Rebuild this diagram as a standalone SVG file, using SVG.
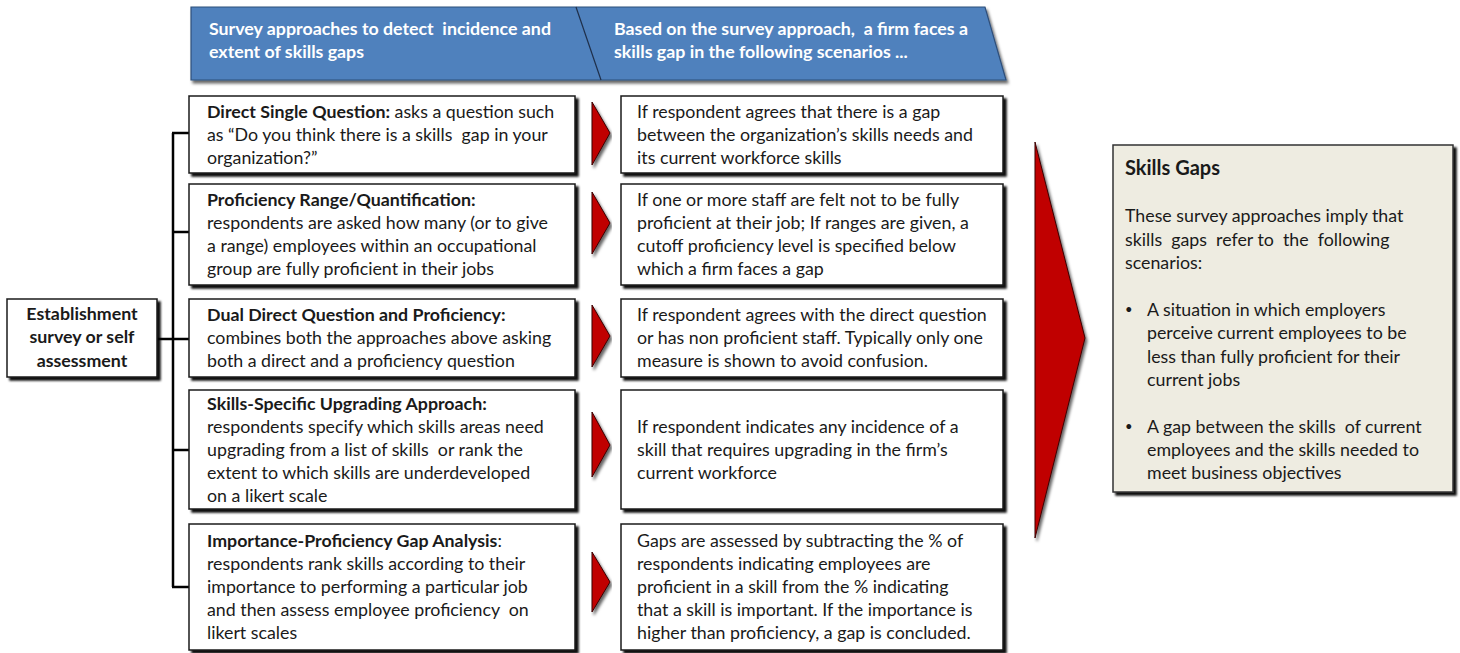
<svg xmlns="http://www.w3.org/2000/svg" width="1460" height="653" viewBox="0 0 1460 653">
<defs>
<filter id="sh" x="-5%" y="-5%" width="115%" height="120%">
<feDropShadow dx="3" dy="3" stdDeviation="1" flood-color="#000" flood-opacity="0.95"/>
</filter>
<filter id="sh2" x="-5%" y="-5%" width="115%" height="120%">
<feDropShadow dx="2" dy="3" stdDeviation="1.5" flood-color="#000" flood-opacity="0.6"/>
</filter>
</defs>
<style>
text{font-family:Lato,"Open Sans","Liberation Sans",sans-serif;font-size:17.8px;fill:#1a1a1a;white-space:pre}
.b{font-weight:bold}
.h{fill:#fff;font-weight:bold;font-size:17.8px}
.t{font-size:20px}
.dot{font-size:13px}
.box{fill:#fff;stroke:#1a1a1a;stroke-width:1.5;filter:url(#sh)}
.arr{fill:#c00000;stroke:#3a0000;stroke-width:1;filter:url(#sh2)}
.c{text-anchor:middle}
.ln{stroke:#000;stroke-width:2.5;fill:none}
</style>
<rect width="1460" height="653" fill="#fff"/>

<g id="header">
<polygon points="191,7 985,7 1006,80 191,80" fill="#4f81bd" stroke="#2f4f7a" stroke-width="1.2" filter="url(#sh2)"/>
<line x1="576" y1="7" x2="601" y2="80" stroke="#1f2f4a" stroke-width="1.2"/>
<text class="h" x="209" y="35">Survey approaches to detect  incidence and</text>
<text class="h" x="209" y="58">extent of skills gaps</text>
<text class="h" x="614" y="35">Based on the survey approach,  a firm faces a</text>
<text class="h" x="614" y="58">skills gap in the following scenarios ...</text>
</g>

<g id="connectors">
<line class="ln" x1="173" y1="133" x2="173" y2="587"/>
<line class="ln" x1="157" y1="339" x2="190" y2="339"/>
<line class="ln" x1="172" y1="133" x2="190" y2="133"/>
<line class="ln" x1="172" y1="232" x2="190" y2="232"/>
<line class="ln" x1="172" y1="450" x2="190" y2="450"/>
<line class="ln" x1="172" y1="587" x2="190" y2="587"/>
</g>

<g id="establishment">
<rect class="box" x="7" y="299" width="150" height="78"/>
<text class="b c" x="82" y="320">Establishment</text>
<text class="b c" x="82" y="343">survey or self</text>
<text class="b c" x="82" y="367">assessment</text>
</g>

<g id="approach1">
<rect class="box" x="189" y="96" width="386" height="77"/>
<text x="207" y="118"><tspan class="b">Direct Single Question:</tspan> asks a question such</text>
<text x="207" y="141">as “Do you think there is a skills  gap in your</text>
<text x="207" y="164">organization?”</text>
</g>
<g id="approach2">
<rect class="box" x="189" y="184" width="386" height="101"/>
<text class="b" x="207" y="206">Proficiency Range/Quantification:</text>
<text x="207" y="229">respondents are asked how many (or to give</text>
<text x="207" y="252">a range) employees within an occupational</text>
<text x="207" y="275">group are fully proficient in their jobs</text>
</g>
<g id="approach3">
<rect class="box" x="189" y="299" width="386" height="78"/>
<text class="b" x="207" y="321">Dual Direct Question and Proficiency:</text>
<text x="207" y="344">combines both the approaches above asking</text>
<text x="207" y="367">both a direct and a proficiency question</text>
</g>
<g id="approach4">
<rect class="box" x="189" y="390" width="386" height="119"/>
<text class="b" x="207" y="410">Skills-Specific Upgrading Approach:</text>
<text x="207" y="433">respondents specify which skills areas need</text>
<text x="207" y="456">upgrading from a list of skills  or rank the</text>
<text x="207" y="479">extent to which skills are underdeveloped</text>
<text x="207" y="502">on a likert scale</text>
</g>
<g id="approach5">
<rect class="box" x="189" y="524" width="386" height="126"/>
<text x="207" y="547"><tspan class="b">Importance-Proficiency Gap Analysis</tspan>:</text>
<text x="207" y="570">respondents rank skills according to their</text>
<text x="207" y="593">importance to performing a particular job</text>
<text x="207" y="616">and then assess employee proficiency  on</text>
<text x="207" y="639">likert scales</text>
</g>

<g id="arrows">
<polygon class="arr" points="592,102 610,133 592,165"/>
<polygon class="arr" points="592,192 610,223 592,254"/>
<polygon class="arr" points="592,305 610,336 592,367"/>
<polygon class="arr" points="592,412 610,445 592,477"/>
<polygon class="arr" points="592,552 610,582 592,612"/>
</g>

<g id="scenario1">
<rect class="box" x="621" y="96" width="382" height="77"/>
<text x="637" y="118">If respondent agrees that there is a gap</text>
<text x="637" y="141">between the organization’s skills needs and</text>
<text x="637" y="164">its current workforce skills</text>
</g>
<g id="scenario2">
<rect class="box" x="621" y="184" width="382" height="101"/>
<text x="637" y="206">If one or more staff are felt not to be fully</text>
<text x="637" y="229">proficient at their job; If ranges are given, a</text>
<text x="637" y="252">cutoff proficiency level is specified below</text>
<text x="637" y="275">which a firm faces a gap</text>
</g>
<g id="scenario3">
<rect class="box" x="621" y="299" width="382" height="78"/>
<text x="637" y="321">If respondent agrees with the direct question</text>
<text x="637" y="344">or has non proficient staff. Typically only one</text>
<text x="637" y="367">measure is shown to avoid confusion.</text>
</g>
<g id="scenario4">
<rect class="box" x="621" y="390" width="382" height="119"/>
<text x="637" y="433">If respondent indicates any incidence of a</text>
<text x="637" y="456">skill that requires upgrading in the firm’s</text>
<text x="637" y="479">current workforce</text>
</g>
<g id="scenario5">
<rect class="box" x="621" y="524" width="382" height="126"/>
<text x="637" y="547">Gaps are assessed by subtracting the % of</text>
<text x="637" y="570">respondents indicating employees are</text>
<text x="637" y="593">proficient in a skill from the % indicating</text>
<text x="637" y="616">that a skill is important. If the importance is</text>
<text x="637" y="639">higher than proficiency, a gap is concluded.</text>
</g>

<g id="big-arrow">
<polygon class="arr" points="1035,142 1085,338 1035,538"/>
</g>

<g id="skills-gaps">
<rect x="1113" y="145" width="340" height="347" fill="#eeece1" stroke="#333" stroke-width="1.5" filter="url(#sh)"/>
<text class="b t" x="1125" y="175">Skills Gaps</text>
<text x="1125" y="222">These survey approaches imply that</text>
<text x="1125" y="246">skills  gaps  refer to  the  following</text>
<text x="1125" y="269">scenarios:</text>
<text class="dot" x="1125" y="314">•</text>
<text x="1147" y="316">A situation in which employers</text>
<text x="1147" y="339">perceive current employees to be</text>
<text x="1147" y="363">less than fully proficient for their</text>
<text x="1147" y="386">current jobs</text>
<text class="dot" x="1125" y="431">•</text>
<text x="1147" y="433">A gap between the skills  of current</text>
<text x="1147" y="456">employees and the skills needed to</text>
<text x="1147" y="479">meet business objectives</text>
</g>
</svg>
